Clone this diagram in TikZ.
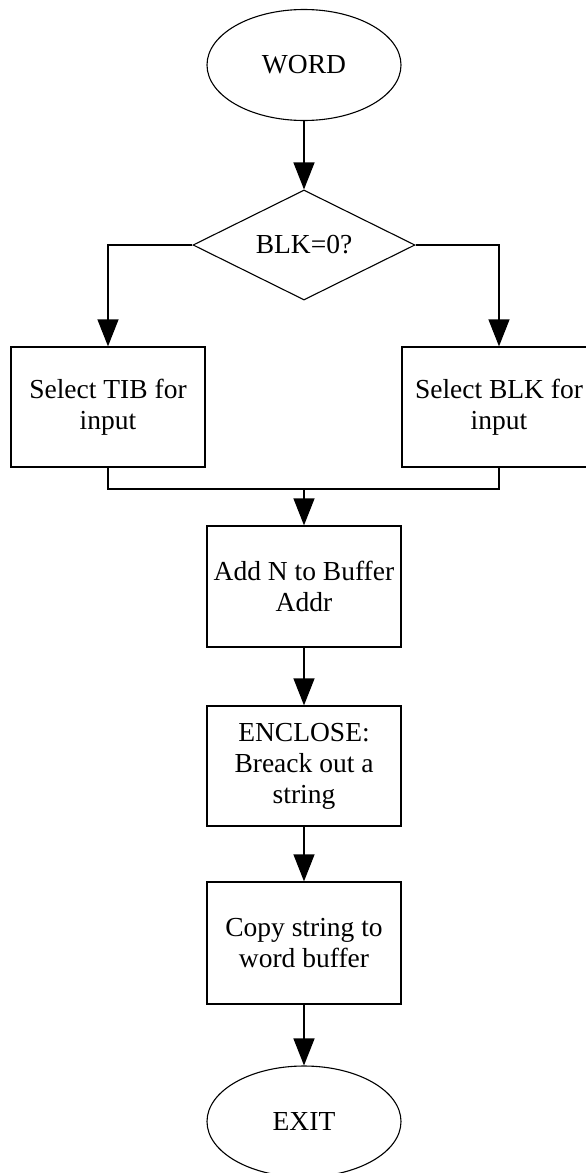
\documentclass[tikz,border=0pt]{standalone}
\usepackage{fontspec}
\setmainfont{Liberation Serif}
\usetikzlibrary{shapes.geometric,arrows.meta}
\begin{document}
\begin{tikzpicture}[x=1pt,y=-1pt,
  every node/.style={font=\fontsize{27.5}{31}\selectfont, align=center},
  proc/.style={draw, line width=1.3pt, rectangle, minimum width=194pt, minimum height=121pt, inner sep=0pt},
  term/.style={draw, line width=1.1pt, ellipse, minimum width=194pt, minimum height=111pt, inner sep=0pt},
  decis/.style={draw, line width=1.1pt, diamond, aspect=2, minimum width=222pt, minimum height=110pt, inner sep=0pt},
  arr/.style={line width=1.3pt, -{Triangle[width=21pt,length=27pt]}},
  conn/.style={line width=1.3pt}]
\useasboundingbox (0,0) rectangle (586,1173);
\clip (0,0) rectangle (586,1173);
\fill[white] (0,0) rectangle (586,1173);
\node[term] (word) at (304,65) {WORD};
\node[decis] (dec) at (304,245) {BLK=0?};
\node[proc, minimum height=120pt] (tib) at (108,407) {Select TIB for\\input};
\node[proc, minimum height=120pt] (blk) at (499,407) {Select BLK for\\input};
\coordinate (merge) at (304,489);
\node[proc] (add) at (304,586.5) {Add N to Buffer\\Addr};
\node[proc, minimum height=120pt] (encl) at (304,766) {ENCLOSE:\\Breack out a\\string};
\node[proc, minimum height=122pt] (copy) at (304,943) {Copy string to\\word buffer};
\node[term] (exit) at (304,1121.5) {EXIT};
\draw[arr] (word) -- (dec);
\draw[arr] (dec.west) -| (tib.north);
\draw[arr] (dec.east) -| (blk.north);
\draw[conn] (tib.south) |- (merge) -| (blk.south);
\draw[arr] (merge) -- (add.north);
\draw[arr] (add) -- (encl);
\draw[arr] (encl) -- (copy);
\draw[arr] (copy) -- (exit);
\end{tikzpicture}
\end{document}
